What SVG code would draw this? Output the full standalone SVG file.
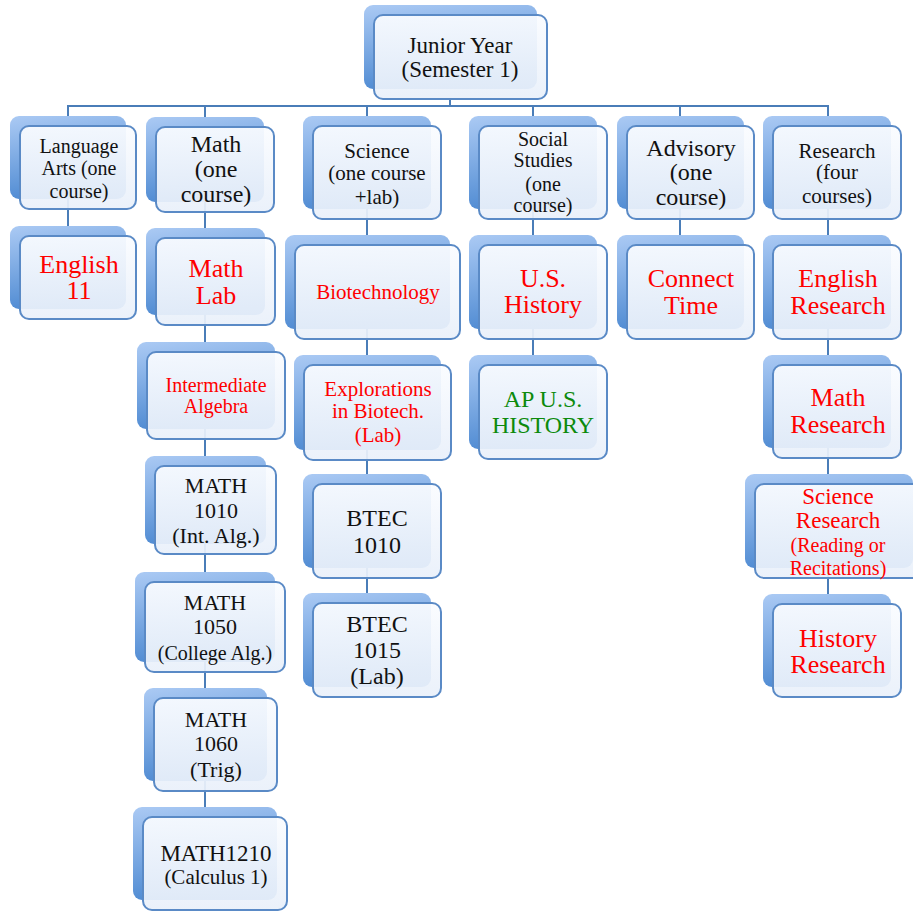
<svg xmlns="http://www.w3.org/2000/svg" width="913" height="913" viewBox="0 0 913 913">
<defs>
<linearGradient id="sh" x1="0" y1="0" x2="0.25" y2="1">
<stop offset="0" stop-color="#abcaf4"/>
<stop offset="1" stop-color="#4e8ad2"/>
</linearGradient>
<linearGradient id="fr" x1="0" y1="0" x2="0" y2="1">
<stop offset="0" stop-color="#fafcff"/>
<stop offset="1" stop-color="#e9f0fa"/>
</linearGradient>
<style>
.s{fill:url(#sh)}
.f{fill:url(#fr);fill-opacity:0.93;stroke:#5a8ac6;stroke-width:2}
.c{stroke:#4a7db8;stroke-width:2;fill:none}
text{font-family:"Liberation Serif","Times New Roman",serif;text-anchor:middle}
.k{fill:#111}
.r{fill:#ff0000}
.g{fill:#0c8a0c}
</style>
</defs>
<rect width="913" height="913" fill="#ffffff"/>
<g id="connectors" class="c">
<line x1="450" y1="99" x2="450" y2="106"/>
<line x1="67" y1="106" x2="829" y2="106"/>
<line x1="68" y1="106" x2="68" y2="236"/>
<line x1="205" y1="106" x2="205" y2="817"/>
<line x1="367" y1="106" x2="367" y2="603"/>
<line x1="533" y1="106" x2="533" y2="365"/>
<line x1="680" y1="106" x2="680" y2="245"/>
<line x1="828" y1="106" x2="828" y2="604"/>
</g>

<g id="junior-year">
<rect class="s" x="364" y="5" width="173" height="84" rx="9"/>
<rect class="f" x="374" y="15" width="173" height="84" rx="9"/>
<text class="k" font-size="23" x="460" y="53">Junior Year</text>
<text class="k" font-size="23" x="460" y="77">(Semester 1)</text>
</g>

<g id="language-arts">
<rect class="s" x="10" y="116" width="116" height="83" rx="9"/>
<rect class="f" x="20" y="126" width="116" height="83" rx="9"/>
<text class="k" font-size="20" x="79" y="153">Language</text>
<text class="k" font-size="20" x="79" y="175">Arts (one</text>
<text class="k" font-size="20" x="79" y="198">course)</text>
</g>

<g id="math">
<rect class="s" x="146" y="117" width="118" height="85" rx="9"/>
<rect class="f" x="156" y="127" width="118" height="85" rx="9"/>
<text class="k" font-size="24" x="216" y="152">Math</text>
<text class="k" font-size="24" x="216" y="177">(one</text>
<text class="k" font-size="24" x="216" y="202">course)</text>
</g>

<g id="science">
<rect class="s" x="303" y="116" width="128" height="93" rx="9"/>
<rect class="f" x="313" y="126" width="128" height="93" rx="9"/>
<text class="k" font-size="21" x="377" y="158">Science</text>
<text class="k" font-size="21" x="377" y="180">(one course</text>
<text class="k" font-size="21" x="377" y="204">+lab)</text>
</g>

<g id="social-studies">
<rect class="s" x="469" y="116" width="128" height="93" rx="9"/>
<rect class="f" x="479" y="126" width="128" height="93" rx="9"/>
<text class="k" font-size="20" x="543" y="146">Social</text>
<text class="k" font-size="20" x="543" y="167">Studies</text>
<text class="k" font-size="20" x="543" y="191">(one</text>
<text class="k" font-size="20" x="543" y="212">course)</text>
</g>

<g id="advisory">
<rect class="s" x="617" y="116" width="127" height="93" rx="9"/>
<rect class="f" x="627" y="126" width="127" height="93" rx="9"/>
<text class="k" font-size="24" x="691" y="156">Advisory</text>
<text class="k" font-size="24" x="691" y="180">(one</text>
<text class="k" font-size="24" x="691" y="205">course)</text>
</g>

<g id="research">
<rect class="s" x="763" y="116" width="128" height="93" rx="9"/>
<rect class="f" x="773" y="126" width="128" height="93" rx="9"/>
<text class="k" font-size="21" x="837" y="158">Research</text>
<text class="k" font-size="21" x="837" y="179">(four</text>
<text class="k" font-size="21" x="837" y="203">courses)</text>
</g>

<g id="english-11">
<rect class="s" x="10" y="226" width="116" height="83" rx="9"/>
<rect class="f" x="20" y="236" width="116" height="83" rx="9"/>
<text class="r" font-size="26" x="79" y="273">English</text>
<text class="r" font-size="26" x="79" y="299">11</text>
</g>

<g id="math-lab">
<rect class="s" x="146" y="228" width="119" height="87" rx="9"/>
<rect class="f" x="156" y="238" width="119" height="87" rx="9"/>
<text class="r" font-size="26" x="216" y="277">Math</text>
<text class="r" font-size="26" x="216" y="304">Lab</text>
</g>

<g id="biotechnology">
<rect class="s" x="285" y="235" width="165" height="94" rx="9"/>
<rect class="f" x="295" y="245" width="165" height="94" rx="9"/>
<text class="r" font-size="21" x="378" y="299">Biotechnology</text>
</g>

<g id="us-history">
<rect class="s" x="469" y="235" width="128" height="94" rx="9"/>
<rect class="f" x="479" y="245" width="128" height="94" rx="9"/>
<text class="r" font-size="26" x="543" y="287">U.S.</text>
<text class="r" font-size="26" x="543" y="313">History</text>
</g>

<g id="connect-time">
<rect class="s" x="617" y="235" width="127" height="94" rx="9"/>
<rect class="f" x="627" y="245" width="127" height="94" rx="9"/>
<text class="r" font-size="26" x="691" y="287">Connect</text>
<text class="r" font-size="26" x="691" y="314">Time</text>
</g>

<g id="english-research">
<rect class="s" x="763" y="235" width="128" height="94" rx="9"/>
<rect class="f" x="773" y="245" width="128" height="94" rx="9"/>
<text class="r" font-size="26" x="838" y="287">English</text>
<text class="r" font-size="26" x="838" y="314">Research</text>
</g>

<g id="intermediate-algebra">
<rect class="s" x="137" y="342" width="138" height="87" rx="9"/>
<rect class="f" x="147" y="352" width="138" height="87" rx="9"/>
<text class="r" font-size="20" x="216" y="392">Intermediate</text>
<text class="r" font-size="20" x="216" y="413">Algebra</text>
</g>

<g id="explorations">
<rect class="s" x="294" y="355" width="147" height="95" rx="9"/>
<rect class="f" x="304" y="365" width="147" height="95" rx="9"/>
<text class="r" font-size="21" x="378" y="396">Explorations</text>
<text class="r" font-size="21" x="378" y="418">in Biotech.</text>
<text class="r" font-size="21" x="378" y="442">(Lab)</text>
</g>

<g id="ap-us-history">
<rect class="s" x="469" y="355" width="128" height="94" rx="9"/>
<rect class="f" x="479" y="365" width="128" height="94" rx="9"/>
<text class="g" font-size="24" x="543" y="407">AP U.S.</text>
<text class="g" font-size="24" x="543" y="433">HISTORY</text>
</g>

<g id="math-research">
<rect class="s" x="763" y="355" width="128" height="93" rx="9"/>
<rect class="f" x="773" y="365" width="128" height="93" rx="9"/>
<text class="r" font-size="26" x="838" y="406">Math</text>
<text class="r" font-size="26" x="838" y="433">Research</text>
</g>

<g id="math-1010">
<rect class="s" x="145" y="456" width="121" height="88" rx="9"/>
<rect class="f" x="155" y="466" width="121" height="88" rx="9"/>
<text class="k" font-size="22" x="216" y="493">MATH</text>
<text class="k" font-size="22" x="216" y="518">1010</text>
<text class="k" font-size="22" x="216" y="543">(Int. Alg.)</text>
</g>

<g id="btec-1010">
<rect class="s" x="303" y="474" width="128" height="94" rx="9"/>
<rect class="f" x="313" y="484" width="128" height="94" rx="9"/>
<text class="k" font-size="24" x="377" y="526">BTEC</text>
<text class="k" font-size="24" x="377" y="553">1010</text>
</g>

<g id="science-research">
<rect class="s" x="745" y="474" width="168" height="94" rx="9"/>
<rect class="f" x="755" y="484" width="168" height="94" rx="9"/>
<text class="r" font-size="23" x="838" y="504">Science</text>
<text class="r" font-size="23" x="838" y="528">Research</text>
<text class="r" font-size="20" x="838" y="552">(Reading or</text>
<text class="r" font-size="20" x="838" y="575">Recitations)</text>
</g>

<g id="math-1050">
<rect class="s" x="135" y="572" width="140" height="90" rx="9"/>
<rect class="f" x="145" y="582" width="140" height="90" rx="9"/>
<text class="k" font-size="22" x="215" y="610">MATH</text>
<text class="k" font-size="22" x="215" y="634">1050</text>
<text class="k" font-size="20" x="215" y="660">(College Alg.)</text>
</g>

<g id="btec-1015">
<rect class="s" x="303" y="593" width="128" height="94" rx="9"/>
<rect class="f" x="313" y="603" width="128" height="94" rx="9"/>
<text class="k" font-size="24" x="377" y="632">BTEC</text>
<text class="k" font-size="24" x="377" y="658">1015</text>
<text class="k" font-size="24" x="377" y="684">(Lab)</text>
</g>

<g id="history-research">
<rect class="s" x="763" y="594" width="128" height="93" rx="9"/>
<rect class="f" x="773" y="604" width="128" height="93" rx="9"/>
<text class="r" font-size="26" x="838" y="647">History</text>
<text class="r" font-size="26" x="838" y="673">Research</text>
</g>

<g id="math-1060">
<rect class="s" x="144" y="688" width="123" height="93" rx="9"/>
<rect class="f" x="154" y="698" width="123" height="93" rx="9"/>
<text class="k" font-size="22" x="216" y="727">MATH</text>
<text class="k" font-size="22" x="216" y="751">1060</text>
<text class="k" font-size="22" x="216" y="777">(Trig)</text>
</g>

<g id="math-1210">
<rect class="s" x="133" y="807" width="144" height="93" rx="9"/>
<rect class="f" x="143" y="817" width="144" height="93" rx="9"/>
<text class="k" font-size="23" x="216" y="861">MATH1210</text>
<text class="k" font-size="21" x="216" y="884">(Calculus 1)</text>
</g>
</svg>
